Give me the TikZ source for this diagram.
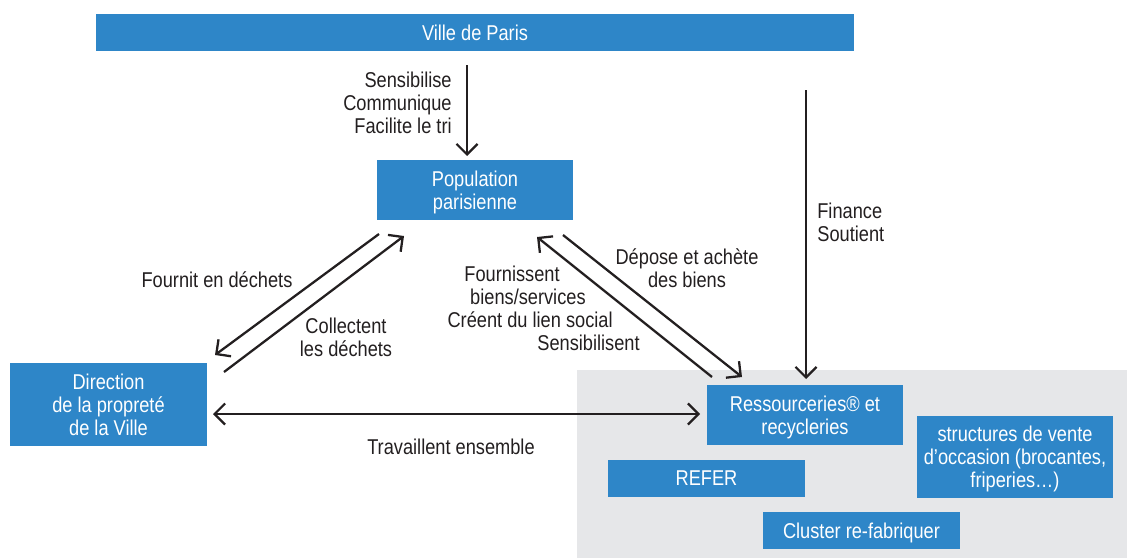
\documentclass[tikz,border=0pt]{standalone}
\usepackage{fontspec}
\setmainfont{Liberation Sans}[FakeStretch=0.85]
\usetikzlibrary{arrows.meta}
\definecolor{boxblue}{RGB}{46,134,200}
\definecolor{zonegray}{RGB}{230,231,233}
\definecolor{inkdark}{RGB}{35,31,32}
\tikzset{
  acteur/.style={fill=boxblue, text=white, align=center, inner sep=0pt, text depth=0pt,
    font=\fontsize{12.2}{13.2}\selectfont},
  pointe/.style={-{Straight Barb[length=6pt,width=12pt,line width=1.3pt]}},
  lien/.style={draw=inkdark, line width=1.3pt, pointe},
  etiq/.style={text=inkdark, font=\fontsize{12.2}{13.2}\selectfont, inner sep=0pt}
}
\begin{document}
\begin{tikzpicture}[x=0.02cm,y=-0.02cm]
\useasboundingbox (0,0) rectangle (1127,558);
\fill[zonegray] (577,370) rectangle (1127,558);

\node[acteur, minimum width=15.16cm, minimum height=0.74cm] (ville) at (475,32.5) {Ville de Paris};
\node[acteur, minimum width=3.92cm, minimum height=1.2cm] (popu) at (475,190) {Population\\parisienne};
\node[acteur, minimum width=3.94cm, minimum height=1.66cm] (dir) at (108.5,404.5) {Direction\\de la propreté\\de la Ville};
\node[acteur, minimum width=3.92cm, minimum height=1.2cm] (ressou) at (805,415) {Ressourceries® et\\recycleries};
\node[acteur, minimum width=3.92cm, minimum height=1.64cm] (occas) at (1015,457) {structures de vente\\d’occasion (brocantes,\\friperies…)};
\node[acteur, minimum width=3.94cm, minimum height=0.74cm] (refer) at (706.5,478.5) {REFER};
\node[acteur, minimum width=3.94cm, minimum height=0.74cm] (cluster) at (861.5,530.5) {Cluster re-fabriquer};

\coordinate (v1) at (467,65);
\coordinate (p1) at (467,156);
\coordinate (v2) at (806,90);
\coordinate (r1) at (806,379);
\coordinate (p2) at (379,234);
\coordinate (d1) at (215,355);
\coordinate (d2) at (224,372);
\coordinate (p3) at (404,236);
\coordinate (p4) at (563,235);
\coordinate (r2) at (742,377);
\coordinate (r3) at (712,377);
\coordinate (p5) at (537,237);
\coordinate (d3) at (213,414);
\coordinate (r4) at (700,414);

\draw[lien] (v1) -- (p1);
\draw[lien] (v2) -- (r1);
\draw[lien] (p2) -- (d1);
\draw[lien] (d2) -- (p3);
\draw[lien] (p4) -- (r2);
\draw[lien] (r3) -- (p5);
\draw[lien, {Straight Barb[length=6pt,width=12pt,line width=1.3pt]}-{Straight Barb[length=6pt,width=12pt,line width=1.3pt]}] (d3) -- (r4);

\node[etiq, anchor=east, align=right] (l1) at (452,103) {Sensibilise\\Communique\\Facilite le tri};
\node[etiq, anchor=west, align=left] (l2) at (817,222) {Finance\\Soutient};
\node[etiq] (l3) at (217,280) {Fournit en déchets};
\node[etiq, align=center] (l4) at (346,337) {Collectent\\les déchets};
\node[etiq, align=center] (l5) at (687,268) {Dépose et achète\\des biens};
\node[etiq, anchor=east] (l6) at (560,274) {Fournissent};
\node[etiq, anchor=east] (l7) at (586,297) {biens/services};
\node[etiq, anchor=east] (l8) at (613,320) {Créent du lien social};
\node[etiq, anchor=east] (l9) at (640,343) {Sensibilisent};
\node[etiq] (l10) at (451,447) {Travaillent ensemble};
\end{tikzpicture}
\end{document}
